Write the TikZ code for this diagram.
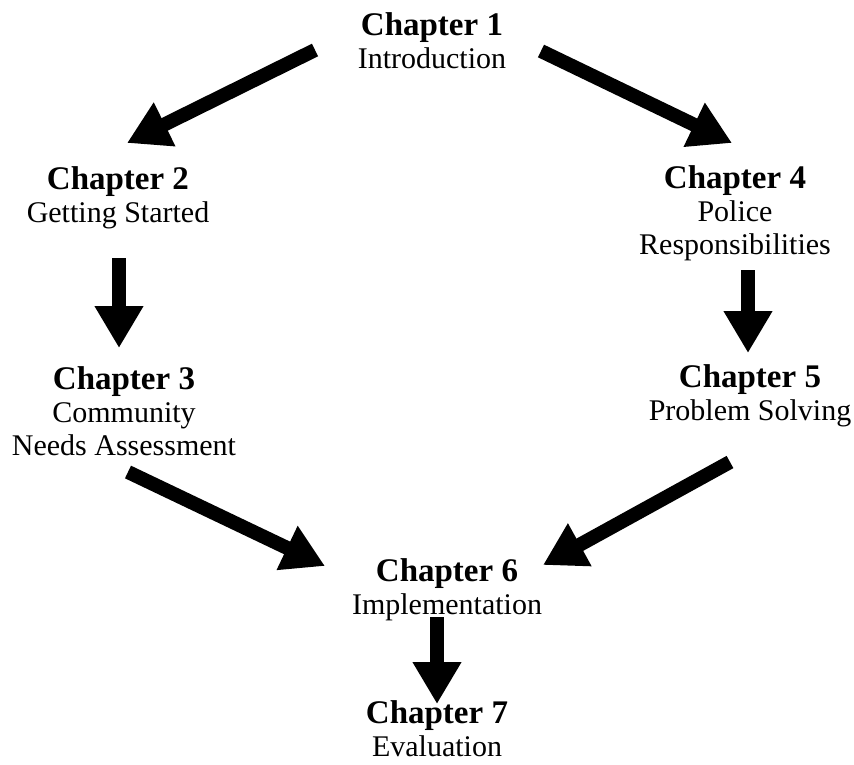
\documentclass[tikz,border=0pt]{standalone}
\usepackage{fontspec}
\setmainfont{Liberation Serif}
\usetikzlibrary{arrows.meta}
\newcommand{\chaphead}[1]{{\fontsize{33}{33}\selectfont\bfseries #1}}

\begin{document}
\begin{tikzpicture}[x=1pt,y=-1pt,chapter/.style={align=center,inner sep=0pt,font=\fontsize{30}{33}\selectfont},flow/.style={line width=14pt,-{Triangle[length=42pt,width=46pt]}}] %
    \useasboundingbox (0,0) rectangle (854,764) ; %
    \node[chapter] (intro) at (432,41) {\chaphead{Chapter 1}\\Introduction} ; %
    \node[chapter] (start) at (118,198) {\chaphead{Chapter 2}\\Getting Started} ; %
    \node[chapter] (needs) at (124,411) {\chaphead{Chapter 3}\\Community\\Needs Assessment} ;
    \node[chapter] (police) at (735,213) {\chaphead{Chapter 4}\\Police\\Responsibilities} ;
    \node[chapter] (solve) at (750,396) {\chaphead{Chapter 5}\\Problem Solving} ;
    \node[chapter] (impl) at (447,590) {\chaphead{Chapter 6}\\Implementation} ;
    \node[chapter] (eval) at (437,729) {\chaphead{Chapter 7}\\Evaluation} ;
    \coordinate (intro-l) at (315,50) ; \coordinate (start-t) at (127,143) ; %
    \coordinate (intro-r) at (541,51) ; \coordinate (police-t) at (732,143) ;
    \coordinate (start-b) at (119,258) ; \coordinate (needs-t) at (119,348) ;
    \coordinate (police-b) at (748,270) ; \coordinate (solve-t) at (748,353) ;
    \coordinate (needs-b) at (128,472) ; \coordinate (impl-l) at (325,566) ;
    \coordinate (solve-b) at (730,462) ; \coordinate (impl-r) at (543,565) ;
    \coordinate (impl-b) at (437,617) ; \coordinate (eval-t) at (437,704) ;
    \draw[flow] (intro-l)--(start-t) ; %
    \draw[flow] (intro-r)--(police-t) ;
    \draw[flow] (start-b)--(needs-t) ;
    \draw[flow] (police-b)--(solve-t) ;
    \draw[flow] (needs-b)--(impl-l) ;
    \draw[flow] (solve-b)--(impl-r) ;
    \draw[flow] (impl-b)--(eval-t) ;
  \end{tikzpicture}
\end{document}
